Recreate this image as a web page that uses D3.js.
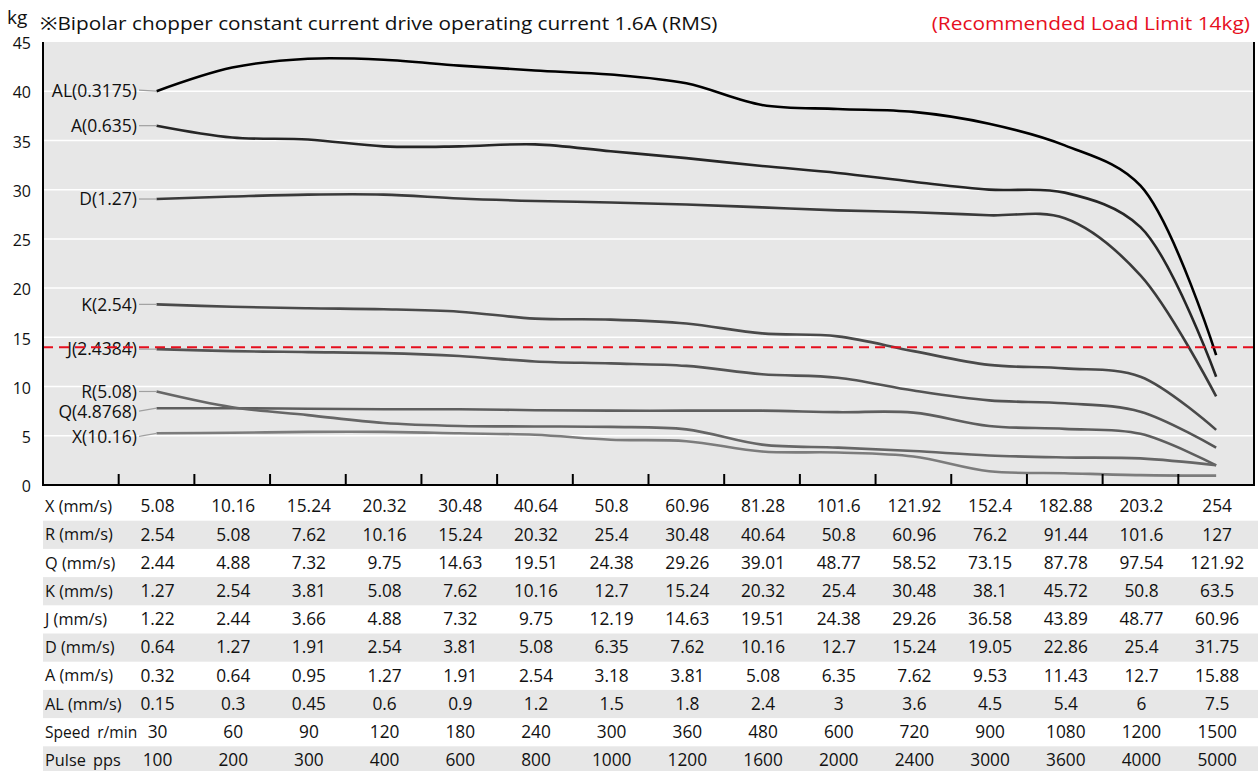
<!DOCTYPE html>
<html>
<head>
<meta charset="utf-8">
<script src="https://cdn.jsdelivr.net/npm/d3@7"></script>
<style>
  body { margin: 0; background: #fff; }
  svg { display: block; font-family: "Open Sans", "Noto Sans", sans-serif; }
</style>
</head>
<body>
<div id="chart"></div>
<script>
// series (kg at each speed step)
const seriesNames = ["AL(0.3175)", "A(0.635)", "D(1.27)", "K(2.54)", "J(2.4384)", "R(5.08)", "Q(4.8768)", "X(10.16)"];
const loadAL = [40.0, 42.4, 43.3, 43.2, 42.6, 42.1, 41.7, 40.8, 38.6, 38.2, 37.9, 36.7, 34.5, 30.4, 13.2];
const loadA  = [36.5, 35.3, 35.1, 34.4, 34.4, 34.6, 33.9, 33.2, 32.4, 31.7, 30.8, 30.0, 29.7, 26.2, 11.0];
const loadD  = [29.05, 29.3, 29.5, 29.5, 29.1, 28.85, 28.7, 28.5, 28.2, 27.9, 27.7, 27.4, 27.1, 21.3, 9.0];
const loadK  = [18.35, 18.1, 17.95, 17.85, 17.6, 16.9, 16.8, 16.4, 15.4, 15.1, 13.6, 12.2, 11.85, 11.0, 5.6];
const loadJ  = [13.8, 13.6, 13.5, 13.4, 13.1, 12.55, 12.35, 12.1, 11.25, 10.9, 9.6, 8.6, 8.3, 7.45, 3.8];
const loadR  = [9.5, 7.9, 7.1, 6.3, 6.0, 5.95, 5.9, 5.65, 4.1, 3.8, 3.45, 3.0, 2.8, 2.7, 2.0];
const loadQ  = [7.8, 7.8, 7.75, 7.7, 7.7, 7.6, 7.55, 7.55, 7.55, 7.4, 7.35, 6.0, 5.7, 5.2, 2.0];
const loadX  = [5.25, 5.3, 5.4, 5.4, 5.25, 5.1, 4.6, 4.45, 3.4, 3.3, 2.9, 1.4, 1.2, 1.0, 0.95];
const limitKg = 14;
const yTicks = [0, 5, 10, 15, 20, 25, 30, 35, 40, 45];

// table rows
const rowX  = ["5.08", "10.16", "15.24", "20.32", "30.48", "40.64", "50.8", "60.96", "81.28", "101.6", "121.92", "152.4", "182.88", "203.2", "254"];
const rowR  = ["2.54", "5.08", "7.62", "10.16", "15.24", "20.32", "25.4", "30.48", "40.64", "50.8", "60.96", "76.2", "91.44", "101.6", "127"];
const rowQ  = ["2.44", "4.88", "7.32", "9.75", "14.63", "19.51", "24.38", "29.26", "39.01", "48.77", "58.52", "73.15", "87.78", "97.54", "121.92"];
const rowK  = ["1.27", "2.54", "3.81", "5.08", "7.62", "10.16", "12.7", "15.24", "20.32", "25.4", "30.48", "38.1", "45.72", "50.8", "63.5"];
const rowJ  = ["1.22", "2.44", "3.66", "4.88", "7.32", "9.75", "12.19", "14.63", "19.51", "24.38", "29.26", "36.58", "43.89", "48.77", "60.96"];
const rowD  = ["0.64", "1.27", "1.91", "2.54", "3.81", "5.08", "6.35", "7.62", "10.16", "12.7", "15.24", "19.05", "22.86", "25.4", "31.75"];
const rowA  = ["0.32", "0.64", "0.95", "1.27", "1.91", "2.54", "3.18", "3.81", "5.08", "6.35", "7.62", "9.53", "11.43", "12.7", "15.88"];
const rowAL = ["0.15", "0.3", "0.45", "0.6", "0.9", "1.2", "1.5", "1.8", "2.4", "3", "3.6", "4.5", "5.4", "6", "7.5"];
const rowSpeed = ["30", "60", "90", "120", "180", "240", "300", "360", "480", "600", "720", "900", "1080", "1200", "1500"];
const rowPulse = ["100", "200", "300", "400", "600", "800", "1000", "1200", "1600", "2000", "2400", "3000", "3600", "4000", "5000"];
const rowLabels = ["X (mm/s)", "R (mm/s)", "Q (mm/s)", "K (mm/s)", "J (mm/s)", "D (mm/s)", "A (mm/s)", "AL (mm/s)", "Speed r/min", "Pulse pps"];

const width = 1258, height = 771;
const plotLeft = 43, plotRight = 1254, plotTop = 42, plotBottom = 485;

const svg = d3.select("#chart").append("svg").attr("width", width).attr("height", height);

const series = [loadAL, loadA, loadD, loadK, loadJ, loadR, loadQ, loadX].map((v, i) => ({ name: seriesNames[i], values: v }));
const colors = ["#000000", "#262626", "#3a3a3a", "#4a4a4a", "#545454", "#666666", "#5e5e5e", "#7c7c7c"];
const labelNudge = { "Q(4.8768)": 3, "X(10.16)": 3, "AL(0.3175)": -1 };

// 16 bands: first holds the labels, the rest one per speed step
const bands = ["label"].concat(d3.range(rowX.length));
const x = d3.scaleBand().domain(bands).range([plotLeft, plotRight]);
const cx = (i) => x(i) + x.bandwidth() / 2;
const y = d3.scaleLinear().domain([0, 45]).range([plotBottom, plotTop]);

svg.append("rect").attr("x", plotLeft).attr("y", plotTop).attr("width", plotRight - plotLeft).attr("height", plotBottom - plotTop).attr("fill", "#e7e7e7");

// grid
svg.append("g").selectAll("line").data(yTicks.filter(d => d > 0 && d < 45)).join("line")
  .attr("x1", plotLeft).attr("x2", plotRight).attr("y1", d => y(d)).attr("y2", d => y(d))
  .attr("stroke", "#fff").attr("stroke-width", 1.5);

// y tick labels
svg.append("g").selectAll("text").data(yTicks).join("text")
  .attr("x", 31).attr("y", d => y(d)).attr("dy", "0.45em").attr("text-anchor", "end")
  .attr("font-size", 16).attr("fill", "#111").text(d => d);

// header texts (the source font is wider, so stretch a little)
svg.append("text").attr("x", 7).attr("y", 24).attr("font-size", 19).attr("fill", "#111").text("kg");
svg.append("text").attr("transform", "translate(40,29.5) scale(1.155,1)").attr("font-size", 18).attr("fill", "#111")
  .text("※Bipolar chopper constant current drive operating current 1.6A (RMS)");
svg.append("text").attr("transform", "translate(1250,29.5) scale(1.16,1)").attr("text-anchor", "end").attr("font-size", 18).attr("fill", "#e60f1e")
  .text("(Recommended Load Limit 14kg)");

// table shading
const rowH = 28.2, tableTop = 492.5;
svg.append("g").selectAll("rect").data(rowLabels.map((d, i) => i).filter(i => i % 2 === 1)).join("rect")
  .attr("x", plotLeft).attr("width", width - plotLeft).attr("y", i => tableTop + i * rowH).attr("height", rowH)
  .attr("fill", "#e7e7e7");

// curves
const line = d3.line().x((d, i) => cx(i)).y(d => y(d)).curve(d3.curveCatmullRom.alpha(0.5));
const g = svg.append("g");
g.selectAll("path").data(series.slice().reverse()).join("path")
  .attr("d", d => line(d.values)).attr("fill", "none")
  .attr("stroke", d => colors[seriesNames.indexOf(d.name)])
  .attr("stroke-width", 2.6).attr("stroke-linejoin", "round");

// leader lines + series labels
svg.append("g").selectAll("line").data(series).join("line")
  .attr("x1", 139).attr("x2", cx(0))
  .attr("y1", d => y(d.values[0]) + (labelNudge[d.name] || 0)).attr("y2", d => y(d.values[0]))
  .attr("stroke", "#a0a0a0").attr("stroke-width", 1.2);
svg.append("g").selectAll("text").data(series).join("text")
  .attr("x", 137).attr("y", d => y(d.values[0]) + (labelNudge[d.name] || 0)).attr("dy", "0.36em")
  .attr("text-anchor", "end").attr("font-size", 17.5).attr("fill", "#111").text(d => d.name);

// recommended limit
svg.append("line").attr("x1", plotLeft).attr("x2", plotRight).attr("y1", y(limitKg)).attr("y2", y(limitKg))
  .attr("stroke", "#e60f1e").attr("stroke-width", 2).attr("stroke-dasharray", "10,6");

// axes frame
svg.append("line").attr("x1", plotLeft).attr("x2", plotLeft).attr("y1", plotTop).attr("y2", plotBottom + 1).attr("stroke", "#000").attr("stroke-width", 2);
svg.append("line").attr("x1", plotRight).attr("x2", plotRight).attr("y1", plotTop).attr("y2", plotBottom + 1).attr("stroke", "#000").attr("stroke-width", 2);
svg.append("line").attr("x1", plotLeft).attr("x2", plotRight).attr("y1", plotBottom).attr("y2", plotBottom).attr("stroke", "#000").attr("stroke-width", 2);
svg.append("g").selectAll("line").data(bands.slice(1)).join("line")
  .attr("x1", d => x(d)).attr("x2", d => x(d)).attr("y1", plotBottom).attr("y2", plotBottom - 11)
  .attr("stroke", "#000").attr("stroke-width", 2);

// table text
const tableRows = [rowX, rowR, rowQ, rowK, rowJ, rowD, rowA, rowAL, rowSpeed, rowPulse];
const rows = svg.append("g").selectAll("g").data(tableRows).join("g")
  .attr("transform", (d, i) => `translate(0,${tableTop + i * rowH + rowH / 2})`);
rows.append("text").attr("x", 45).attr("dy", "0.34em").attr("font-size", (d, i) => i === 8 ? 15.6 : 16.3).attr("fill", "#111")
  .attr("word-spacing", (d, i) => i >= 8 ? 3 : 0)
  .text((d, i) => rowLabels[i]);
rows.selectAll("text.v").data(d => d).join("text").attr("class", "v")
  .attr("x", (d, i) => cx(i) + 1).attr("dy", "0.34em").attr("text-anchor", "middle")
  .attr("font-size", 17.3).attr("fill", "#111").text(d => d);
</script>
</body>
</html>
